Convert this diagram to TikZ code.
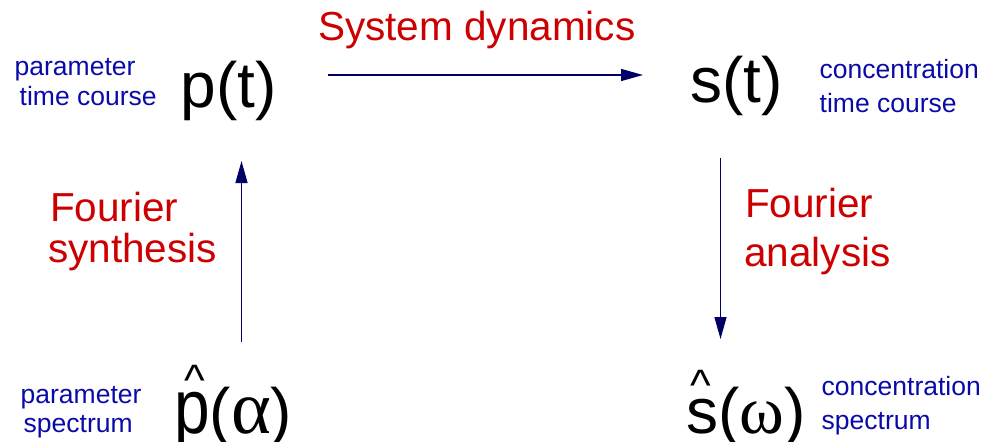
\documentclass[tikz,border=0pt]{standalone}
\usepackage{fontspec}
\setmainfont{Liberation Sans}
\newfontfamily\greekf{Liberation Serif}
\usetikzlibrary{arrows.meta}
\definecolor{navyarrow}{HTML}{000066}
\definecolor{labelblue}{HTML}{0A0AAA}
\definecolor{labelred}{HTML}{CC0000}
\newcommand\hatted[2]{\makebox[0pt][l]{\hspace*{#1}\raisebox{#2}{\fontsize{44}{44}\selectfont\textasciicircum}}}
\newcommand\bigGreek[2]{{\greekf\fontsize{#1}{#1}\selectfont #2}}
\tikzset{
  txt/.style={inner sep=0pt, anchor=base west},
  bigsym/.style={txt, text=black, font=\fontsize{64}{64}\selectfont},
  bluelab/.style={txt, text=labelblue, font=\fontsize{26.5}{30}\selectfont},
  redlab/.style={txt, text=labelred, font=\fontsize{40.5}{46}\selectfont},
  flow/.style={draw=navyarrow, line width=1.4pt, -{Triangle[length=22pt,width=12pt]}}
}
\begin{document}
\begin{tikzpicture}[x=1pt,y=-1pt]
\useasboundingbox (0,0) rectangle (986,442);
% big symbols
\node[bigsym] (p) at (180.5,107) {p(t)};
\node[bigsym] (s) at (690,102) {s(t)};
\node[bigsym] (ph) at (174,433) {\hatted{10pt}{38pt}\scalebox{1}[1.2]{p}(\bigGreek{76}{α})};
\node[bigsym] (sh) at (686,433) {\hatted{4pt}{33pt}s(\bigGreek{68}{ω})};
% anchor coordinates for connectors
\coordinate (hA) at (328,75);
\coordinate (hB) at (643,75);
\coordinate (rA) at (720.5,158);
\coordinate (rB) at (720.5,339);
\coordinate (lA) at (241.5,342);
\coordinate (lB) at (241.5,161);
\draw[flow] (hA) -- (hB);
\draw[flow] (rA) -- (rB);
\draw[flow] (lA) -- (lB);
% blue labels
\node[bluelab] (l1) at (14.5,75) {parameter};
\node[bluelab] (l2) at (19.5,105) {time course};
\node[bluelab] (r1) at (819.5,78) {concentration};
\node[bluelab] (r2) at (819.5,112) {time course};
\node[bluelab] (bl1) at (20.5,403) {parameter};
\node[bluelab] (bl2) at (23.5,432) {spectrum};
\node[bluelab] (br1) at (821.5,395) {concentration};
\node[bluelab] (br2) at (821.5,429) {spectrum};
% red labels
\node[redlab] (sd) at (318,40) {System dynamics};
\node[redlab] (f1) at (50,221) {Fourier};
\node[redlab] (f2) at (48,262) {synthesis};
\node[redlab] (f3) at (745,217) {Fourier};
\node[redlab] (f4) at (744,266) {analysis};
\end{tikzpicture}
\end{document}
